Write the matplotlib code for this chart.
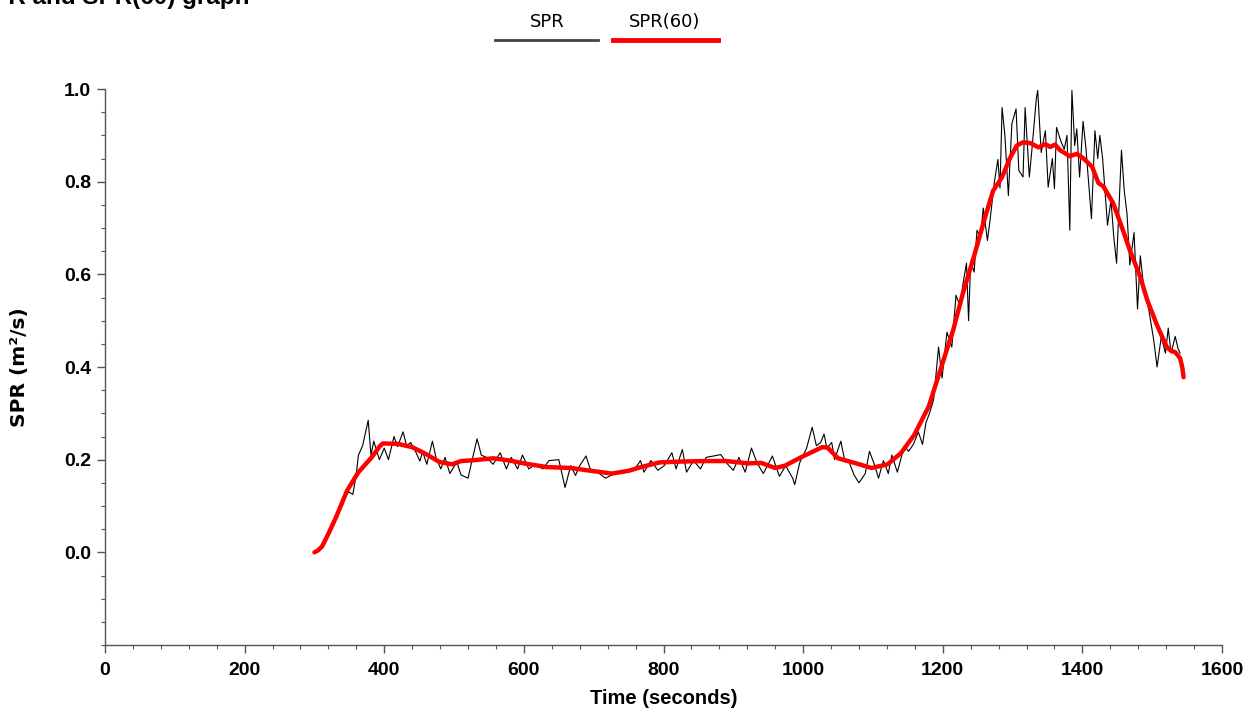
import numpy as np
import matplotlib.pyplot as plt
from matplotlib.lines import Line2D

plt.rcParams['font.family'] = ['Liberation Sans', 'DejaVu Sans']

# raw SPR samples (seconds, m2/s)
spr_t = [300, 305, 310, 315, 320, 325, 330, 335, 340, 345, 350, 355, 360, 363, 369, 377,
         381, 385, 393, 400, 406, 414, 419, 427, 432, 438, 445, 451, 455, 461, 469, 474,
         481, 487, 494, 504, 510, 520, 526, 533, 539, 546, 556, 566, 575, 582, 591, 598,
         607, 617, 627, 636, 650, 659, 667, 674, 680, 689, 695, 708, 717, 730, 743, 759,
         767, 772, 782, 792, 801, 812, 818, 827, 833, 843, 853, 861, 872, 882, 892, 900,
         908, 917, 926, 934, 943, 956, 966, 975, 985, 988, 995, 1005, 1013, 1019, 1025, 1030,
         1034, 1041, 1045, 1054, 1060, 1065, 1073, 1080, 1089, 1095, 1102, 1108, 1115, 1122, 1127, 1135,
         1145, 1151, 1158, 1165, 1171, 1176, 1181, 1187, 1194, 1199, 1206, 1213, 1219, 1225, 1229, 1234,
         1237, 1240, 1245, 1249, 1254, 1258, 1264, 1268, 1274, 1279, 1282, 1285, 1289, 1294, 1299, 1305,
         1309, 1315, 1318, 1324, 1328, 1334, 1336, 1341, 1347, 1351, 1357, 1360, 1363, 1369, 1374, 1378,
         1382, 1385, 1389, 1392, 1396, 1401, 1405, 1413, 1418, 1422, 1425, 1429, 1436, 1441, 1445, 1449,
         1456, 1460, 1464, 1468, 1474, 1479, 1483, 1488, 1495, 1502, 1507, 1513, 1519, 1523, 1527, 1533,
         1537, 1540]
spr_v = [0.0, 0.005, 0.012, 0.028, 0.04, 0.058, 0.075, 0.092, 0.1, 0.125, 0.13, 0.125, 0.17, 0.21, 0.23, 0.285,
         0.21, 0.24, 0.2, 0.225, 0.2, 0.25, 0.228, 0.26, 0.23, 0.237, 0.217, 0.197, 0.217, 0.19, 0.24, 0.205,
         0.18, 0.205, 0.17, 0.195, 0.167, 0.16, 0.2, 0.245, 0.21, 0.205, 0.19, 0.215, 0.18, 0.205, 0.18, 0.21,
         0.18, 0.19, 0.18, 0.198, 0.2, 0.14, 0.187, 0.166, 0.187, 0.208, 0.18, 0.17, 0.16, 0.17, 0.173, 0.18,
         0.198, 0.173, 0.198, 0.177, 0.187, 0.215, 0.18, 0.222, 0.173, 0.198, 0.18, 0.205, 0.208, 0.211, 0.19, 0.177,
         0.205, 0.173, 0.225, 0.193, 0.17, 0.208, 0.164, 0.187, 0.16, 0.146, 0.193, 0.225, 0.27, 0.23, 0.237, 0.255,
         0.225, 0.237, 0.2, 0.24, 0.195, 0.198, 0.167, 0.15, 0.17, 0.218, 0.19, 0.16, 0.198, 0.17, 0.21, 0.173,
         0.23, 0.218, 0.233, 0.26, 0.233, 0.28, 0.3, 0.33, 0.443, 0.376, 0.475, 0.443, 0.555, 0.53, 0.58, 0.624,
         0.5, 0.627, 0.605, 0.695, 0.68, 0.743, 0.673, 0.72, 0.8, 0.848, 0.786, 0.96, 0.9, 0.77, 0.925, 0.957,
         0.824, 0.81, 0.96, 0.81, 0.874, 0.979, 0.997, 0.863, 0.91, 0.788, 0.85, 0.785, 0.917, 0.888, 0.87, 0.9,
         0.695, 0.997, 0.878, 0.914, 0.81, 0.93, 0.874, 0.72, 0.91, 0.85, 0.9, 0.85, 0.706, 0.76, 0.68, 0.624,
         0.868, 0.78, 0.73, 0.62, 0.69, 0.525, 0.64, 0.57, 0.525, 0.46, 0.40, 0.465, 0.43, 0.484, 0.43, 0.466,
         0.44, 0.43]

# SPR(60) smoothed curve
avg_t = [300, 305, 311, 320, 331, 347, 363, 382, 393, 398, 420, 440, 460, 479, 497, 510, 530, 556,
         580, 600, 633, 668, 691, 726, 750, 768, 794, 826, 860, 890, 921, 940, 960, 974,
         998, 1015, 1027, 1035, 1050, 1076, 1098, 1121, 1140, 1159, 1180, 1200, 1215, 1229, 1245, 1260,
         1272, 1285, 1296, 1306, 1315, 1326, 1337, 1347, 1354, 1361, 1368, 1382, 1392, 1401, 1414, 1423,
         1430, 1444, 1457, 1468, 1483, 1493, 1507, 1521, 1527, 1533, 1540, 1543, 1545]
avg_v = [0.0, 0.004, 0.013, 0.04, 0.076, 0.134, 0.173, 0.205, 0.228, 0.235, 0.234, 0.227, 0.212, 0.195, 0.19, 0.197, 0.199, 0.203,
         0.198, 0.192, 0.184, 0.182, 0.177, 0.17, 0.176, 0.184, 0.194, 0.196, 0.197, 0.197, 0.192, 0.193, 0.182, 0.187,
         0.206, 0.218, 0.227, 0.226, 0.203, 0.192, 0.182, 0.19, 0.214, 0.253, 0.315, 0.41, 0.48, 0.56, 0.64, 0.72,
         0.78, 0.81, 0.85, 0.878, 0.885, 0.883, 0.874, 0.881, 0.875, 0.88, 0.868, 0.855, 0.86, 0.851, 0.832, 0.797,
         0.79, 0.754, 0.70, 0.652, 0.594, 0.544, 0.49, 0.443, 0.435, 0.432, 0.419, 0.40, 0.378]

fig = plt.figure(figsize=(12.48, 7.09), dpi=100)
ax = fig.add_axes([105 / 1248, 1 - 645 / 709, 1117 / 1248, 556 / 709])

ax.plot(spr_t, spr_v, color='black', lw=0.8)
ax.plot(avg_t, avg_v, color='#ff0000', lw=3.2, solid_capstyle='round', solid_joinstyle='round')

ax.set_xlim(0, 1600)
ax.set_ylim(-0.2, 1.0)
ax.set_xticks(np.arange(0, 1601, 200))
ax.set_xticks(np.arange(0, 1601, 40), minor=True)
ax.set_yticks([0.0, 0.2, 0.4, 0.6, 0.8, 1.0])
ax.set_yticks(np.arange(-0.2, 1.001, 0.05), minor=True)
ax.yaxis.set_major_formatter(plt.FormatStrFormatter('%.1f'))

for s in ['top', 'right']:
    ax.spines[s].set_visible(False)
for s in ['left', 'bottom']:
    ax.spines[s].set_color('#555555')
    ax.spines[s].set_linewidth(1.0)

ax.tick_params(which='major', length=6, width=1, color='#555555', labelsize=14, pad=4)
ax.tick_params(which='minor', length=3, width=0.8, color='#555555')
ax.tick_params(axis='x', which='major', pad=6)
for lbl in ax.get_xticklabels() + ax.get_yticklabels():
    lbl.set_fontweight('bold')

ax.set_xlabel('Time (seconds)', fontsize=14.5, fontweight='bold')
ax.set_ylabel('SPR (m²/s)', fontsize=14.5, fontweight='bold', family=['DejaVu Sans'])
ax.xaxis.set_label_coords(0.5, -53 / 556)
ax.yaxis.set_label_coords(-86 / 1117, 0.5)
ax.xaxis.label.set_va('center')
ax.yaxis.label.set_va('center')

# title, partly cut off at the left edge
fig.text(250 / 1248, 1 - 4 / 709, 'SPR and SPR(60) graph', ha='right', va='baseline',
         fontsize=17.5, fontweight='bold')

# legend drawn on top
fig.text(547 / 1248, 1 - 22 / 709, 'SPR', ha='center', va='center', fontsize=13,
         family=['DejaVu Sans'])
fig.text(665 / 1248, 1 - 22 / 709, 'SPR(60)', ha='center', va='center', fontsize=13,
         family=['DejaVu Sans'])
fig.add_artist(Line2D([495 / 1248, 598 / 1248], [1 - 40 / 709, 1 - 40 / 709], color='#444444', lw=2))
fig.add_artist(Line2D([613 / 1248, 718 / 1248], [1 - 40 / 709, 1 - 40 / 709], color='#ff0000', lw=3.5))

fig.savefig('out.png', dpi=100)
